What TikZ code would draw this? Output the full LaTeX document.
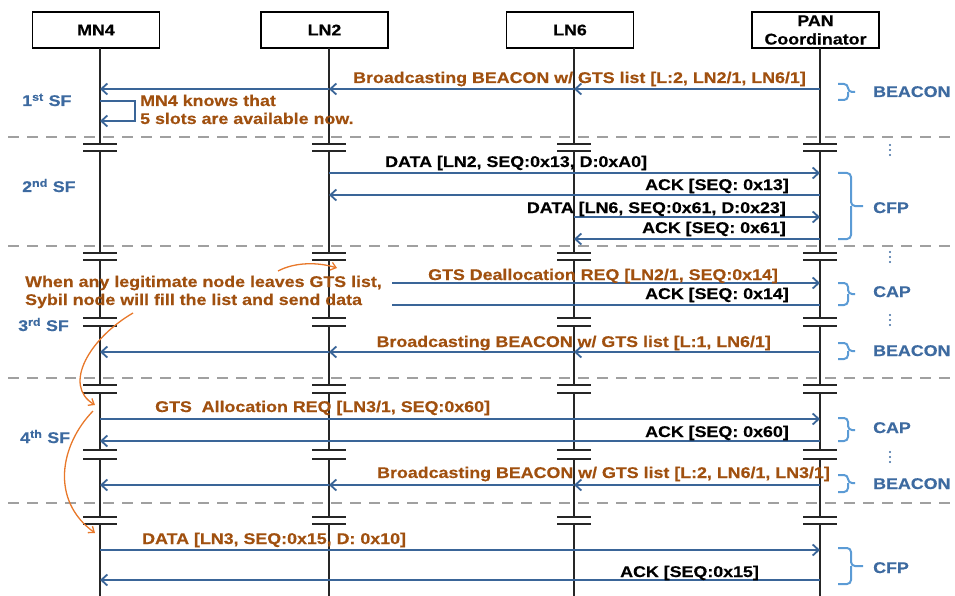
\documentclass[tikz,border=0pt]{standalone}
\usepackage{fontspec}
\setmainfont{Liberation Sans}[FakeStretch=1.15,FakeBold=0.4]
\usetikzlibrary{arrows.meta}
\definecolor{arrblue}{HTML}{3A6598}
\definecolor{txtor}{HTML}{A0500F}
\definecolor{sfblue}{HTML}{3D6AA0}
\definecolor{brblue}{HTML}{5B9BD5}
\definecolor{curveor}{HTML}{E8782A}
\definecolor{dashgray}{HTML}{A0A0A0}
\begin{document}
\begin{tikzpicture}[x=1pt,y=-1pt,
  font=\fontsize{15.5}{18}\selectfont\bfseries,
  hdr/.style={draw, line width=1.5pt, minimum width=127pt, minimum height=36pt, inner sep=0pt, align=center},
  life/.style={line width=1.5pt, black!85},
  barline/.style={line width=1.5pt, black!85},
  sepline/.style={dashgray, line width=2pt, dash pattern=on 11pt off 8pt},
  msg/.style={arrblue, line width=1.8pt, -{Straight Barb[length=6pt, width=11pt, line width=1.8pt]}},
  msgplain/.style={arrblue, line width=1.8pt},
  lab/.style={inner sep=0pt, text=black},
  olab/.style={inner sep=0pt, text=txtor},
  sf/.style={inner sep=0pt, text=sfblue},
  phase/.style={inner sep=0pt, text=sfblue},
  brace/.style={brblue, line width=2pt, rounded corners=4pt},
  ann/.style={curveor, line width=1.3pt, -{Straight Barb[length=5pt, width=8pt, line width=1.3pt]}},
  vdot/.style={fill=sfblue, draw=none, circle, inner sep=0pt, minimum size=2.2pt}
]
\useasboundingbox (0,0) rectangle (955,596);

% separators
\foreach \y in {137,246,378,503} \draw[sepline] (8,\y) -- (955,\y);

% headers
\node[hdr] (mn4) at (96,30) {MN4};
\node[hdr] (ln2) at (324.5,30) {LN2};
\node[hdr] (ln6) at (570,30) {LN6};
\node[hdr, font=\fontsize{15.5}{18.5}\selectfont\bfseries] (pan) at (815.5,30) {PAN\\Coordinator};

\coordinate (mnL) at (100,48);
\coordinate (l2L) at (329,48);
\coordinate (l6L) at (574,48);
\coordinate (panL) at (820,48);

% lifelines with breaks
\foreach \n in {mnL,l2L,l6L,panL} {
  \foreach \a/\b in {48/144,151/253,260/318,326/385,393/450,459/517,524/596}
    \draw[life] (\n |- 0,\a) -- (\n |- 0,\b);
  \foreach \t in {144,151,253,260,318,326,385,393,450,459,517,524}
    \draw[barline] (\n |- 0,\t) ++(-17,0) -- ++(34,0);
}

% ---------- 1st SF
\node[sf, anchor=base west] (sf1) at (22,106) {1\textsuperscript{st} SF};
\draw[msg] (panL |- 0,89) -- (l6L |- 0,89);
\draw[msg] (l6L |- 0,89) -- (l2L |- 0,89);
\draw[msg] (l2L |- 0,89) -- (mnL |- 0,89);
\node[olab, anchor=base east] (m1) at (806,83) {Broadcasting BEACON w/ GTS list [L:2, LN2/1, LN6/1]};
\draw[msg, rounded corners=0pt] (mnL |- 0,101) -- (135,101) -- (135,121) -- (mnL |- 0,121);
\node[olab, anchor=base west] (kn1) at (140,106) {MN4 knows that};
\node[olab, anchor=base west] (kn2) at (140,124) {5 slots are available now.};
\draw[brace] (838,84) -| (848,92) -- (855,92);
\draw[brace] (838,100) -| (848,92);
\node[phase, anchor=base west] (p1) at (873,97) {BEACON};

% ---------- 2nd SF
\node[vdot] (d1a) at (890,145) {}; \node[vdot] (d1b) at (890,150) {}; \node[vdot] (d1c) at (890,155) {};
\node[sf, anchor=base west] (sf2) at (22,192) {2\textsuperscript{nd} SF};
\draw[msg] (l2L |- 0,173) -- (panL |- 0,173);
\node[lab, anchor=base west] (m2) at (385,167) {DATA [LN2, SEQ:0x13, D:0xA0]};
\draw[msg] (panL |- 0,195) -- (l2L |- 0,195);
\node[lab, anchor=base east] (m3) at (789,190) {ACK [SEQ: 0x13]};
\draw[msg] (l6L |- 0,217) -- (panL |- 0,217);
\node[lab, anchor=base east] (m4) at (786,213) {DATA [LN6, SEQ:0x61, D:0x23]};
\draw[msg] (panL |- 0,239) -- (l6L |- 0,239);
\node[lab, anchor=base east] (m5) at (786,233) {ACK [SEQ: 0x61]};
\draw[brace] (838,173) -| (851,206) -- (863,206);
\draw[brace] (838,239) -| (851,206);
\node[phase, anchor=base west] (p2) at (873,213) {CFP};

% ---------- 3rd SF
\node[vdot] (d2a) at (890,252) {}; \node[vdot] (d2b) at (890,257) {}; \node[vdot] (d2c) at (890,262) {};
\node[olab, anchor=base west] (sy1) at (25,287) {When any legitimate node leaves GTS list,};
\node[olab, anchor=base west] (sy2) at (25,305) {Sybil node will fill the list and send data};
\node[sf, anchor=base west] (sf3) at (18,331) {3\textsuperscript{rd} SF};
\coordinate (s1) at (392,283);
\coordinate (s2) at (392,305);
\draw[msg] (s1) -- (panL |- s1);
\node[olab, anchor=base west] (m6) at (428,280) {GTS Deallocation REQ [LN2/1, SEQ:0x14]};
\draw[msgplain] (panL |- s2) -- (s2);
\node[lab, anchor=base east] (m7) at (789,299) {ACK [SEQ: 0x14]};
\draw[brace] (838,283) -| (848,294) -- (855,294);
\draw[brace] (838,305) -| (848,294);
\node[phase, anchor=base west] (p3) at (873,297) {CAP};
\node[vdot] (d3a) at (890,315) {}; \node[vdot] (d3b) at (890,320) {}; \node[vdot] (d3c) at (890,325) {};
\draw[msg] (panL |- 0,352) -- (l6L |- 0,352);
\draw[msg] (l6L |- 0,352) -- (l2L |- 0,352);
\draw[msg] (l2L |- 0,352) -- (mnL |- 0,352);
\node[olab, anchor=base east] (m8) at (771,347) {Broadcasting BEACON w/ GTS list [L:1, LN6/1]};
\draw[brace] (838,343) -| (848,351) -- (855,351);
\draw[brace] (838,359) -| (848,351);
\node[phase, anchor=base west] (p4) at (873,356) {BEACON};

% ---------- 4th SF
\node[sf, anchor=base west] (sf4) at (20,443) {4\textsuperscript{th} SF};
\draw[msg] (mnL |- 0,419) -- (panL |- 0,419);
\node[olab, anchor=base west] (m9) at (155,412) {GTS\ \ Allocation REQ [LN3/1, SEQ:0x60]};
\draw[msg] (panL |- 0,441) -- (mnL |- 0,441);
\node[lab, anchor=base east] (m10) at (789,437) {ACK [SEQ: 0x60]};
\draw[brace] (838,418) -| (848,430) -- (855,430);
\draw[brace] (838,441) -| (848,430);
\node[phase, anchor=base west] (p5) at (873,433) {CAP};
\node[vdot] (d4a) at (890,452) {}; \node[vdot] (d4b) at (890,457) {}; \node[vdot] (d4c) at (890,462) {};
\draw[msg] (panL |- 0,485) -- (l6L |- 0,485);
\draw[msg] (l6L |- 0,485) -- (l2L |- 0,485);
\draw[msg] (l2L |- 0,485) -- (mnL |- 0,485);
\node[olab, anchor=base east] (m11) at (830,478) {Broadcasting BEACON w/ GTS list [L:2, LN6/1, LN3/1]};
\draw[brace] (838,475) -| (848,483) -- (855,483);
\draw[brace] (838,492) -| (848,483);
\node[phase, anchor=base west] (p6) at (873,489) {BEACON};

% ---------- 5th
\draw[msg] (mnL |- 0,550) -- (panL |- 0,550);
\node[olab, anchor=base west] (m12) at (142,544) {DATA [LN3, SEQ:0x15, D: 0x10]};
\draw[msg] (panL |- 0,580) -- (mnL |- 0,580);
\node[lab, anchor=base west] (m13) at (620,577) {ACK [SEQ:0x15]};
\draw[brace] (838,548) -| (851,566) -- (863,566);
\draw[brace] (838,584) -| (851,566);
\node[phase, anchor=base west] (p7) at (873,573) {CFP};

% ---------- annotation curves
\coordinate (c1s) at (278,271);
\coordinate (c1e) at (337,268);
\draw[ann] (c1s) .. controls (295,262) and (318,262) .. (c1e);
\coordinate (c2s) at (133,313);
\coordinate (c2e) at (95,405);
\draw[ann] (c2s) .. controls (90,338) and (62,385) .. (c2e);
\coordinate (c3s) at (93,411);
\coordinate (c3e) at (95,533);
\draw[ann] (c3s) .. controls (60,445) and (50,500) .. (c3e);
\end{tikzpicture}
\end{document}
